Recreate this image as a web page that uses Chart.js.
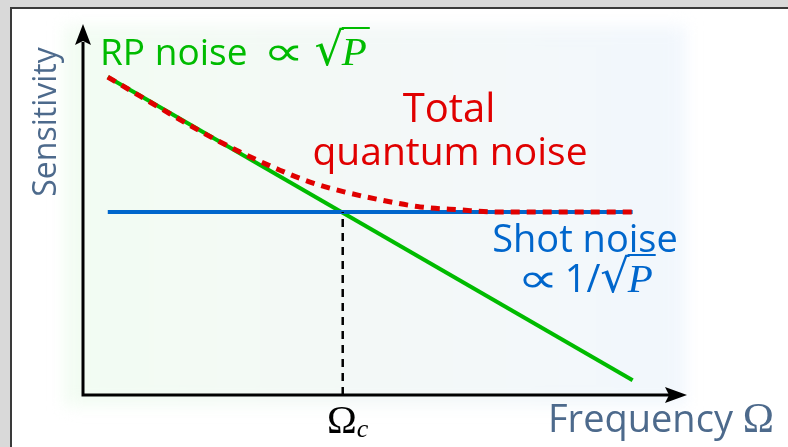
<!DOCTYPE html>
<html>
<head>
<meta charset="utf-8">
<script src="https://cdn.jsdelivr.net/npm/chart.js@4/dist/chart.umd.min.js"></script>
<style>
  html, body { margin: 0; padding: 0; background: #d9d9d9; }
  canvas { display: block; }
</style>
</head>
<body>
<canvas id="noiseChart" width="788" height="447"></canvas>
<script>
// frequency axis runs 0..100, sensitivity axis runs 0..100 (arbitrary units)
const rpFreq = [4.1, 91];
const rpNoise = [85.7, 4.0];

const shotFreq = [4.1, 91];
const shotNoise = [49.3, 49.3];

const totalFreq = [4.1, 20.2, 26.0, 32.6, 37.6, 43.4, 49.2, 55.8, 62.4, 69.0, 91];
const totalNoise = [85.7, 70.4, 65.5, 60.6, 57.4, 54.7, 52.6, 50.7, 49.9, 49.3, 49.3];

const omegaC = 43;
const omegaCLevel = 49.3;

const sansFont = '"Open Sans", "Noto Sans", sans-serif';
const serifFont = '"Liberation Serif", "DejaVu Serif", serif';
const symFont = '"DejaVu Sans", sans-serif';

const toPoints = function (xs, ys) {
    let pts = [];
    for (var i = 0; i < xs.length; i++) {
        pts.push({ x: xs[i], y: ys[i] });
    }
    return pts;
};

// draws a run of text pieces with different fonts, returns where each piece landed
// (sx stretches a piece horizontally, used for the wide proportional sign)
const richText = function (ctx, x, y, pieces, align) {
    let total = 0;
    pieces.forEach(p => {
        ctx.font = p.font;
        total += ctx.measureText(p.t).width * (p.sx || 1) + (p.gap || 0);
    });
    let cx = align === 'center' ? x - total / 2 : (align === 'right' ? x - total : x);
    let spans = [];
    pieces.forEach(p => {
        ctx.font = p.font;
        let m = ctx.measureText(p.t);
        let sx = p.sx || 1;
        ctx.save();
        ctx.translate(cx, y + (p.dy || 0));
        ctx.scale(sx, 1);
        ctx.fillText(p.t, 0, 0);
        ctx.restore();
        spans.push({ x: cx, w: m.width * sx, top: y + (p.dy || 0) - m.actualBoundingBoxAscent });
        cx += m.width * sx + (p.gap || 0);
    });
    return spans;
};

// overbar for sqrt(P): from the radical's top over the italic P
const sqrtBar = function (ctx, spans, color) {
    let rad = spans[spans.length - 2];
    let p = spans[spans.length - 1];
    ctx.strokeStyle = color;
    ctx.lineWidth = 2;
    ctx.beginPath();
    ctx.moveTo(rad.x + rad.w - 2, rad.top + 1);
    ctx.lineTo(p.x + p.w + 3, rad.top + 1);
    ctx.stroke();
};

const backdrop = {
    id: 'backdrop',
    beforeDraw(chart) {
        const ctx = chart.ctx;
        ctx.save();
        ctx.fillStyle = '#d9d9d9';
        ctx.fillRect(0, 0, chart.width, chart.height);
        ctx.fillStyle = '#ffffff';
        ctx.fillRect(11, 8, chart.width, chart.height);
        ctx.strokeStyle = '#3a3a3a';
        ctx.lineWidth = 2;
        ctx.beginPath();
        ctx.moveTo(11, chart.height + 2);
        ctx.lineTo(11, 8);
        ctx.lineTo(chart.width + 2, 8);
        ctx.stroke();

        // faint green-to-blue wash behind the plot
        const g = ctx.createLinearGradient(60, 0, 690, 0);
        g.addColorStop(0, '#f2fcf2');
        g.addColorStop(0.5, '#f3f8f7');
        g.addColorStop(1, '#f2f7fd');
        ctx.filter = 'blur(8px)';
        ctx.fillStyle = g;
        ctx.fillRect(64, 26, 622, 380);
        ctx.restore();
    }
};

const axesArrows = {
    id: 'axesArrows',
    afterDatasetsDraw(chart) {
        const ctx = chart.ctx;
        const a = chart.chartArea;
        ctx.save();
        ctx.strokeStyle = '#000';
        ctx.fillStyle = '#000';
        ctx.lineWidth = 3;
        ctx.beginPath();
        ctx.moveTo(a.left, a.top + 18);
        ctx.lineTo(a.left, a.bottom);
        ctx.lineTo(a.right - 18, a.bottom);
        ctx.stroke();
        ctx.beginPath();
        ctx.moveTo(a.left, a.top);
        ctx.lineTo(a.left - 8, a.top + 21);
        ctx.lineTo(a.left, a.top + 17);
        ctx.lineTo(a.left + 8, a.top + 21);
        ctx.closePath();
        ctx.fill();
        ctx.beginPath();
        ctx.moveTo(a.right, a.bottom);
        ctx.lineTo(a.right - 22, a.bottom - 8);
        ctx.lineTo(a.right - 18, a.bottom);
        ctx.lineTo(a.right - 22, a.bottom + 8);
        ctx.closePath();
        ctx.fill();
        ctx.restore();
    }
};

const labels = {
    id: 'labels',
    afterDraw(chart) {
        const ctx = chart.ctx;
        const xs = chart.scales.x;
        ctx.save();
        ctx.textBaseline = 'alphabetic';

        // axis titles
        ctx.fillStyle = '#4d6a8c';
        ctx.save();
        ctx.translate(56, 122);
        ctx.rotate(-Math.PI / 2);
        ctx.font = '32px ' + sansFont;
        ctx.textAlign = 'center';
        ctx.fillText('Sensitivity', 0, 0);
        ctx.restore();
        ctx.textAlign = 'left';
        richText(ctx, 548, 432, [
            { t: 'Frequency ', font: '38px ' + sansFont },
            { t: 'Ω', font: '42px ' + serifFont }
        ], 'left');

        // crossover frequency
        ctx.fillStyle = '#000';
        richText(ctx, xs.getPixelForValue(omegaC) + 5, 433, [
            { t: 'Ω', font: '40px ' + serifFont },
            { t: 'c', font: 'italic 26px ' + serifFont, dy: 4 }
        ], 'center');

        // radiation pressure
        ctx.fillStyle = '#00bb00';
        let s = richText(ctx, 100, 65, [
            { t: 'RP noise ', font: '37px ' + sansFont, gap: 6 },
            { t: '∝', font: '40px ' + symFont, sx: 1.45, gap: 10 },
            { t: '√', font: '46px ' + symFont, gap: -2 },
            { t: 'P', font: 'italic 41px ' + serifFont }
        ], 'left');
        sqrtBar(ctx, s, '#00bb00');

        // total
        ctx.fillStyle = '#e00000';
        ctx.textAlign = 'center';
        ctx.font = '40px ' + sansFont;
        ctx.fillText('Total', 449, 122);
        ctx.font = '39px ' + sansFont;
        ctx.fillText('quantum noise', 450, 165);
        ctx.textAlign = 'left';

        // shot noise
        ctx.fillStyle = '#0066cc';
        ctx.font = '38px ' + sansFont;
        ctx.textAlign = 'center';
        ctx.fillText('Shot noise', 585, 252);
        ctx.textAlign = 'left';
        s = richText(ctx, 585, 292, [
            { t: '∝', font: '40px ' + symFont, sx: 1.45, gap: 6 },
            { t: '1/', font: '38px ' + sansFont },
            { t: '√', font: '46px ' + symFont, gap: -2 },
            { t: 'P', font: 'italic 41px ' + serifFont }
        ], 'center');
        sqrtBar(ctx, s, '#0066cc');
        ctx.restore();
    }
};

new Chart(document.getElementById('noiseChart'), {
    type: 'line',
    data: {
        datasets: [
            {
                label: 'Total quantum noise',
                data: toPoints(totalFreq, totalNoise),
                borderColor: '#e00000',
                borderWidth: 5,
                borderDash: [9, 7],
                cubicInterpolationMode: 'monotone',
                pointRadius: 0,
                fill: false
            },
            {
                label: 'Crossover',
                data: toPoints([omegaC, omegaC], [0, omegaCLevel]),
                borderColor: '#000000',
                borderWidth: 2.5,
                borderDash: [8, 6],
                pointRadius: 0,
                fill: false
            },
            {
                label: 'Shot noise',
                data: toPoints(shotFreq, shotNoise),
                borderColor: '#0066cc',
                borderWidth: 4,
                pointRadius: 0,
                fill: false
            },
            {
                label: 'RP noise',
                data: toPoints(rpFreq, rpNoise),
                borderColor: '#00bb00',
                borderWidth: 4,
                pointRadius: 0,
                fill: false
            }
        ]
    },
    options: {
        responsive: false,
        animation: false,
        layout: { padding: { left: 83, top: 24, right: 101, bottom: 52 } },
        scales: {
            x: { type: 'linear', min: 0, max: 100, display: false },
            y: { type: 'linear', min: 0, max: 100, display: false }
        },
        plugins: {
            legend: { display: false },
            tooltip: { enabled: false }
        }
    },
    plugins: [backdrop, axesArrows, labels]
});
</script>
</body>
</html>
